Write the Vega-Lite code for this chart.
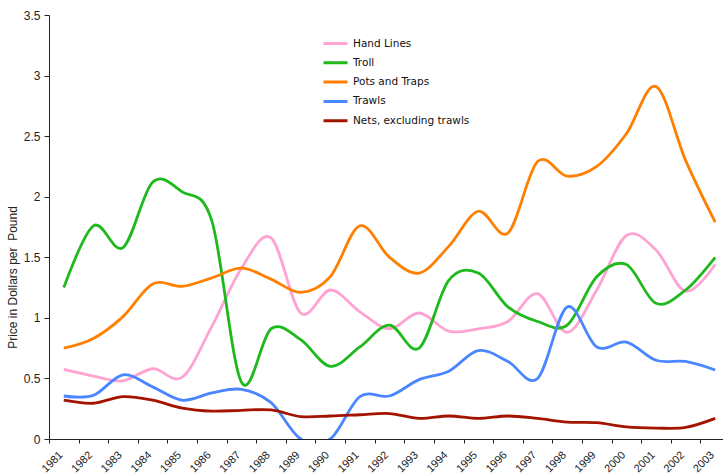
{
  "$schema": "https://vega.github.io/schema/vega-lite/v6.json",
  "width": 674,
  "height": 424,
  "autosize": {"type": "none"},
  "padding": {"left": 49, "top": 15, "right": 0, "bottom": 35},
  "background": "white",
  "config": {"view": {"stroke": null}, "font": "Liberation Sans"},
  "datasets": {
    "raw": [
      {"year": "1981", "HL": 0.575, "TR": 1.25, "PT": 0.75, "TW": 0.355, "NE": 0.32},
      {"year": "1982", "HL": 0.52, "TR": 1.76, "PT": 0.83, "TW": 0.36, "NE": 0.295},
      {"year": "1983", "HL": 0.48, "TR": 1.58, "PT": 1.01, "TW": 0.53, "NE": 0.35},
      {"year": "1984", "HL": 0.58, "TR": 2.12, "PT": 1.28, "TW": 0.43, "NE": 0.32},
      {"year": "1985", "HL": 0.51, "TR": 2.04, "PT": 1.26, "TW": 0.32, "NE": 0.255},
      {"year": "1986", "HL": 0.93, "TR": 1.8, "PT": 1.33, "TW": 0.38, "NE": 0.23},
      {"year": "1987", "HL": 1.41, "TR": 0.47, "PT": 1.41, "TW": 0.41, "NE": 0.237},
      {"year": "1988", "HL": 1.66, "TR": 0.91, "PT": 1.32, "TW": 0.3, "NE": 0.24},
      {"year": "1989", "HL": 1.04, "TR": 0.82, "PT": 1.21, "TW": 0.0, "NE": 0.185},
      {"year": "1990", "HL": 1.23, "TR": 0.6, "PT": 1.34, "TW": 0.0, "NE": 0.19},
      {"year": "1991", "HL": 1.05, "TR": 0.76, "PT": 1.76, "TW": 0.35, "NE": 0.2},
      {"year": "1992", "HL": 0.91, "TR": 0.94, "PT": 1.5, "TW": 0.355, "NE": 0.21},
      {"year": "1993", "HL": 1.04, "TR": 0.75, "PT": 1.37, "TW": 0.49, "NE": 0.17},
      {"year": "1994", "HL": 0.89, "TR": 1.31, "PT": 1.59, "TW": 0.56, "NE": 0.19},
      {"year": "1995", "HL": 0.91, "TR": 1.37, "PT": 1.88, "TW": 0.73, "NE": 0.17},
      {"year": "1996", "HL": 0.97, "TR": 1.09, "PT": 1.7, "TW": 0.64, "NE": 0.19},
      {"year": "1997", "HL": 1.2, "TR": 0.97, "PT": 2.29, "TW": 0.5, "NE": 0.17},
      {"year": "1998", "HL": 0.88, "TR": 0.94, "PT": 2.17, "TW": 1.09, "NE": 0.14},
      {"year": "1999", "HL": 1.23, "TR": 1.34, "PT": 2.25, "TW": 0.76, "NE": 0.135},
      {"year": "2000", "HL": 1.68, "TR": 1.44, "PT": 2.52, "TW": 0.8, "NE": 0.1},
      {"year": "2001", "HL": 1.56, "TR": 1.12, "PT": 2.91, "TW": 0.65, "NE": 0.09},
      {"year": "2002", "HL": 1.22, "TR": 1.23, "PT": 2.3, "TW": 0.64, "NE": 0.095},
      {"year": "2003", "HL": 1.44, "TR": 1.5, "PT": 1.79, "TW": 0.57, "NE": 0.17}
    ]
  },
  "data": {"name": "raw"},
  "transform": [
    {"fold": ["HL", "TR", "PT", "TW", "NE"], "as": ["code", "price"]},
    {"lookup": "code", "from": {"data": {"values": [
      {"code": "HL", "gear": "Hand Lines"},
      {"code": "TR", "gear": "Troll"},
      {"code": "PT", "gear": "Pots and Traps"},
      {"code": "TW", "gear": "Trawls"},
      {"code": "NE", "gear": "Nets, excluding trawls"}
    ]}, "key": "code", "fields": ["gear"]}}
  ],
  "mark": {"type": "line", "interpolate": "cardinal", "tension": 0, "strokeWidth": 2.8, "clip": true},
  "encoding": {
    "x": {
      "field": "year", "type": "ordinal", "bandPosition": 0.5,
      "scale": {"type": "band", "paddingInner": 0, "paddingOuter": 0, "range": [0, 681]},
      "axis": {
        "title": null, "tickBand": "extent", "labelAngle": -45, "labelAlign": "right",
        "labelBaseline": "middle", "labelPadding": 10, "labelOffset": -3, "labelFontSize": 11, "labelColor": "#222",
        "domainColor": "#222", "tickColor": "#222", "tickSize": 4, "grid": false, "labelFont": "Liberation Sans"
      }
    },
    "y": {
      "field": "price", "type": "quantitative",
      "scale": {"domain": [0, 3.5], "nice": false},
      "axis": {
        "values": [0, 0.5, 1, 1.5, 2, 2.5, 3, 3.5], "format": ".1~f", "grid": false,
        "title": "Price in Dollars per\u00a0 Pound", "titleFontWeight": "normal", "titleFontSize": 12,
        "titleFont": "Liberation Sans", "titleColor": "#222", "titleX": -37, "titleY": 262,
        "titleBaseline": "middle", "titleAngle": -90, "titleAlign": "center",
        "labelFontSize": 12, "labelColor": "#222", "labelPadding": 4,
        "domainColor": "#222", "tickColor": "#222", "tickSize": 5, "labelFont": "Liberation Sans"
      }
    },
    "color": {
      "field": "gear", "type": "nominal",
      "scale": {
        "domain": ["Hand Lines", "Troll", "Pots and Traps", "Trawls", "Nets, excluding trawls"],
        "range": ["#FFA3D2", "#1DB91D", "#FF7F00", "#4A86FF", "#A31400"]
      },
      "legend": {
        "orient": "none", "legendX": 273, "legendY": 20, "title": null,
        "symbolType": "stroke", "symbolSize": 576, "symbolStrokeWidth": 3,
        "labelFont": "DejaVu Sans", "labelFontSize": 10.5, "labelColor": "#111",
        "labelOffset": 4, "clipHeight": 17, "rowPadding": 2.3
      }
    }
  }
}
